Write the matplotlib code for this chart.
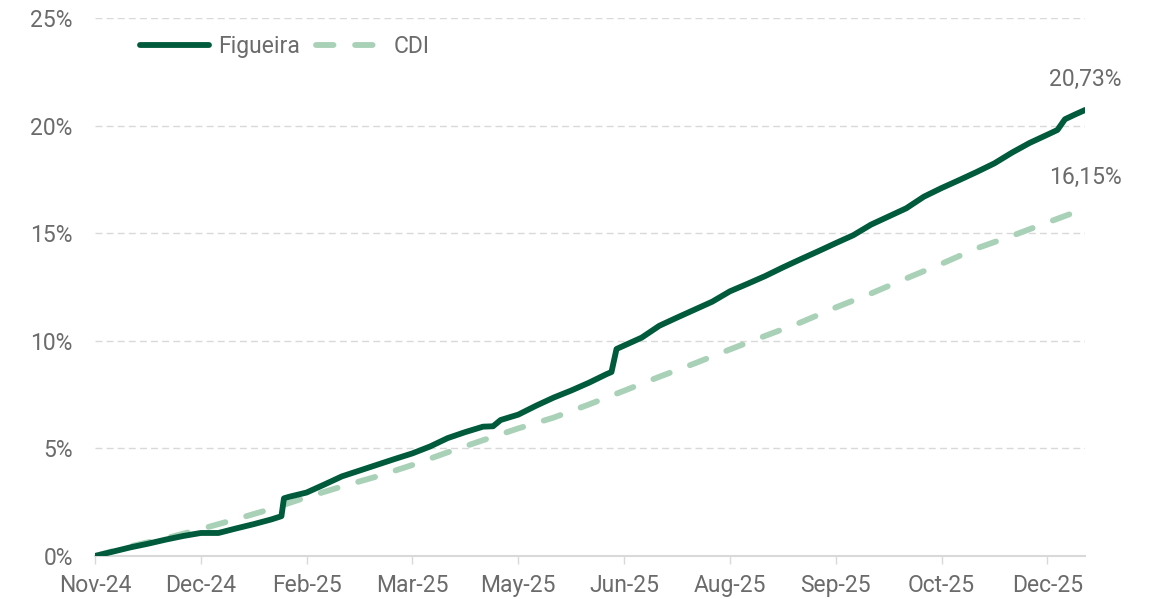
import numpy as np
import matplotlib.pyplot as plt

plt.rcParams['font.family'] = ['Roboto', 'DejaVu Sans']

# days since start of the series (Nov-24) and cumulative return in %
fig_days = [0, 7, 14, 21, 28, 35, 42, 49, 56, 63, 70, 74, 75, 77, 84, 91, 98,
            105, 112, 119, 126, 133, 140, 147, 154, 158, 161, 168, 175, 182,
            189, 196, 203, 205, 207, 210, 217, 224, 231, 238, 245, 252, 259,
            266, 273, 280, 287, 294, 301, 308, 315, 322, 329, 336, 343, 350,
            357, 364, 371, 378, 382, 385, 389, 393]
figueira = [0.00, 0.20, 0.40, 0.57, 0.76, 0.93, 1.07, 1.07, 1.28, 1.48, 1.70,
            1.85, 2.68, 2.75, 2.95, 3.32, 3.70, 3.97, 4.24, 4.51, 4.77, 5.09,
            5.48, 5.76, 6.01, 6.03, 6.32, 6.57, 6.98, 7.36, 7.69, 8.05, 8.45,
            8.55, 9.62, 9.78, 10.15, 10.70, 11.08, 11.45, 11.82, 12.30, 12.65,
            13.01, 13.41, 13.79, 14.16, 14.54, 14.91, 15.40, 15.78, 16.16,
            16.70, 17.10, 17.47, 17.85, 18.25, 18.75, 19.20, 19.58, 19.80,
            20.30, 20.52, 20.73]

cdi_days = [0, 14, 28, 42, 56, 70, 84, 98, 112, 126, 140, 154, 168, 182, 196,
            210, 224, 238, 252, 266, 280, 294, 308, 322, 336, 350, 364, 378, 393]
cdi = [0.00, 0.45, 0.82, 1.25, 1.71, 2.19, 2.73, 3.23, 3.70, 4.23, 4.82, 5.38,
       5.93, 6.43, 7.04, 7.68, 8.33, 8.95, 9.60, 10.23, 10.85, 11.55, 12.20,
       12.90, 13.58, 14.30, 14.88, 15.50, 16.15]

tick_labels = ['Nov-24', 'Dec-24', 'Feb-25', 'Mar-25', 'May-25', 'Jun-25',
               'Aug-25', 'Sep-25', 'Oct-25', 'Dec-25']
tick_step = 42

DARK = '#005a3c'
LIGHT = '#a8d1b7'
GRAY = '#6b6b6b'
FS = 16.5

fig = plt.figure(figsize=(11.5, 5.99), dpi=100)
ax = fig.add_axes([0.0826, 0.0718, 0.861, 0.898])

ax.plot(fig_days, figueira, color=DARK, lw=4.2, solid_capstyle='round',
        solid_joinstyle='round', label='Figueira', zorder=3)
ax.plot(cdi_days, cdi, color=LIGHT, lw=4.2, dashes=(3.0, 3.7),
        dash_capstyle='round', label='CDI', zorder=2)

ax.set_xlim(0, fig_days[-1])
ax.set_ylim(0, 25)

ax.set_yticks(np.arange(0, 26, 5))
ax.set_yticklabels([f'{v}%' for v in range(0, 26, 5)])
ax.set_xticks(np.arange(len(tick_labels)) * tick_step)
ax.set_xticklabels(tick_labels)

ax.tick_params(axis='y', length=0, pad=16, labelsize=FS, labelcolor=GRAY)
ax.tick_params(axis='x', length=6, width=1, color='#d9d9d9', pad=7,
               labelsize=FS, labelcolor=GRAY)

ax.grid(axis='y', color='#d9d9d9', lw=1, linestyle=(0, (5, 3)))
ax.set_axisbelow(True)
for side in ['top', 'right', 'left']:
    ax.spines[side].set_visible(False)
ax.spines['bottom'].set_color('#d9d9d9')
ax.spines['bottom'].set_linewidth(1.5)

# end labels
ax.annotate(f'{figueira[-1]:.2f}%'.replace('.', ','), (fig_days[-1], figueira[-1]),
            xytext=(0, 14), textcoords='offset points', ha='center', va='bottom',
            fontsize=FS, color=GRAY, annotation_clip=False)
ax.annotate(f'{cdi[-1]:.2f}%'.replace('.', ','), (cdi_days[-1], cdi[-1]),
            xytext=(0, 14), textcoords='offset points', ha='center', va='bottom',
            fontsize=FS, color=GRAY, annotation_clip=False)

ax.legend(loc='upper left', bbox_to_anchor=(0.025, 1.006), ncol=2, frameon=False,
          fontsize=FS, handlelength=3.0, handletextpad=0.4, columnspacing=0.7,
          labelcolor=GRAY)

fig.savefig('out.png', dpi=100)
